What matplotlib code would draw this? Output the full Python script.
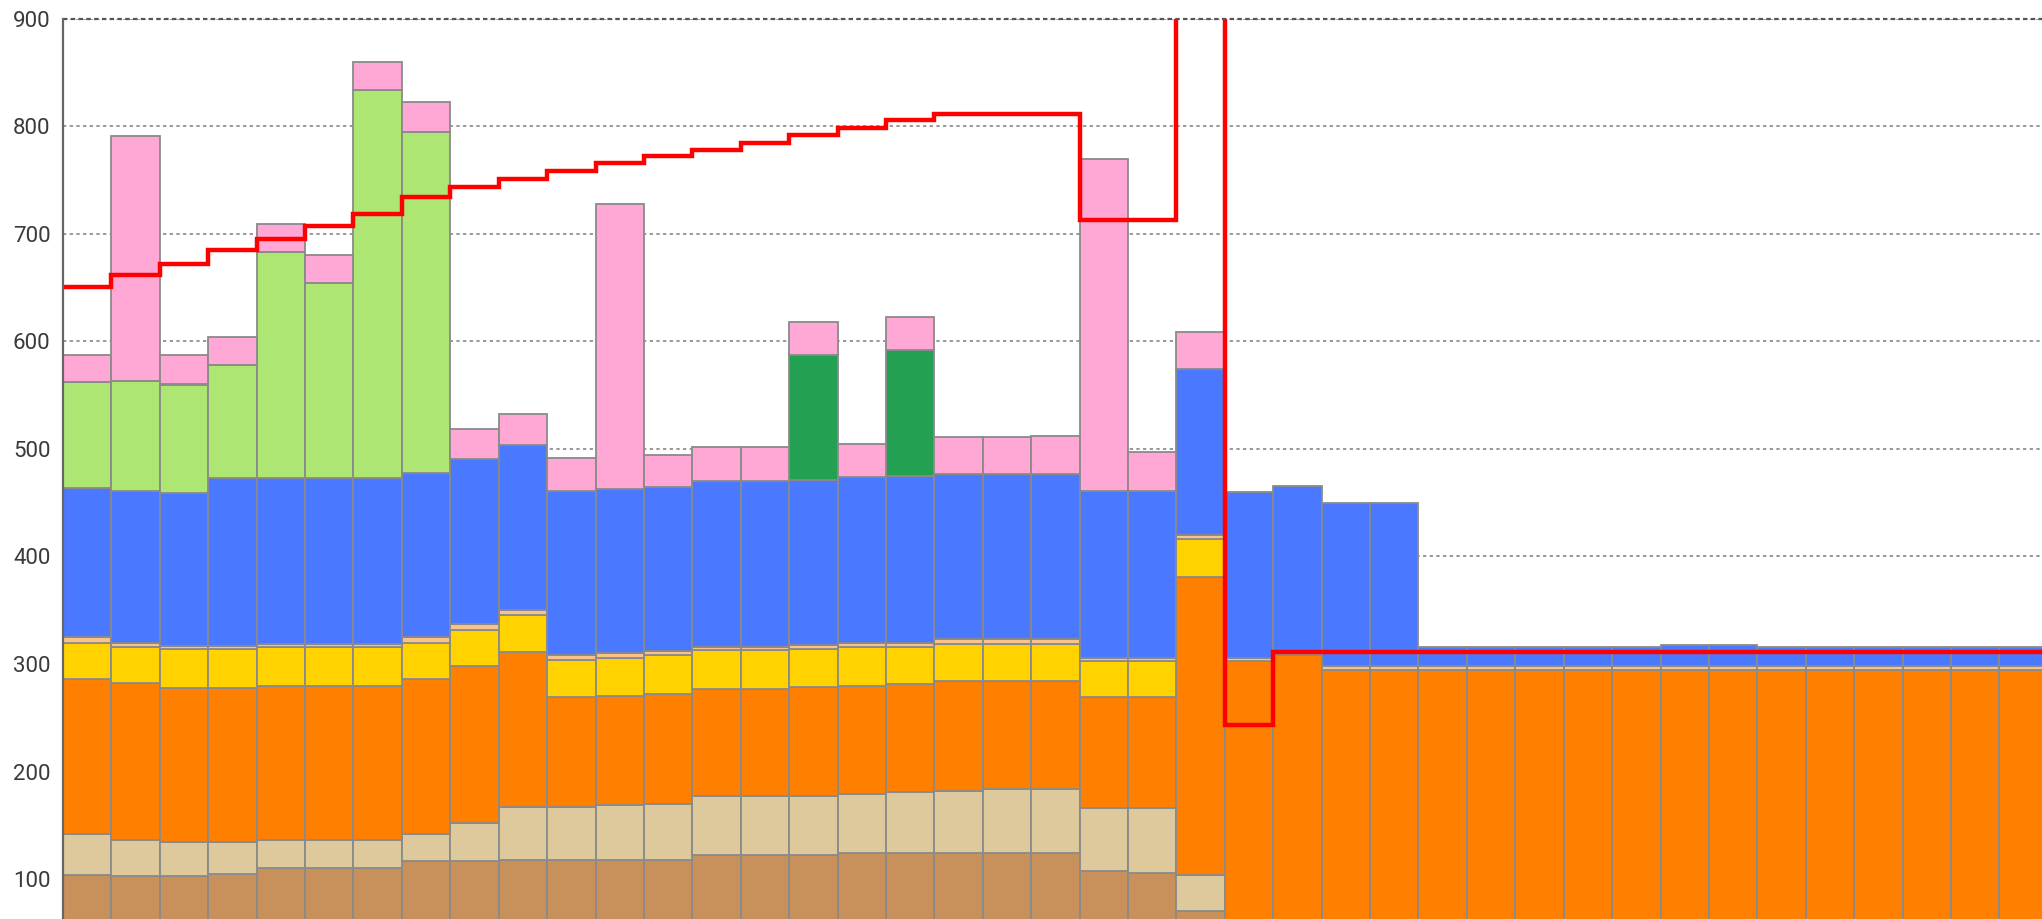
import numpy as np
import matplotlib
matplotlib.use('Agg')
import matplotlib.pyplot as plt

# stacked segment heights, one entry per bar (41 bars, last one cut by the frame)
brown = [104, 103, 103, 105, 110, 110, 110, 117, 117, 118, 118, 118, 118, 122, 122, 122, 124, 124, 124, 124, 124,
         107, 106, 70, 0, 0, 0, 0, 0, 0, 0, 0, 0, 0, 0, 0, 0, 0, 0, 0, 0]
tan = [38, 33, 31, 29, 26, 26, 26, 25, 35, 49, 49, 51, 52, 55, 55, 55, 55, 57, 58, 60, 60,
       59, 60, 34, 0, 0, 0, 0, 0, 0, 0, 0, 0, 0, 0, 0, 0, 0, 0, 0, 0]
orange = [144, 146, 144, 144, 144, 144, 144, 144, 146, 144, 102, 101, 102, 100, 100, 102, 101, 100, 102, 100, 100,
          103, 103, 277, 303, 308, 294, 294, 294, 294, 294, 294, 294, 294, 294, 294, 294, 294, 294, 294, 294]
yellow = [34, 34, 36, 36, 36, 36, 36, 34, 34, 35, 35, 36, 36, 36, 36, 35, 36, 35, 35, 35, 35,
          34, 34, 35, 0, 0, 0, 0, 0, 0, 0, 0, 0, 0, 0, 0, 0, 0, 0, 0, 0]
peach = [5, 4, 3, 3, 3, 3, 3, 5, 5, 4, 4, 4, 4, 3, 3, 4, 4, 4, 4, 4, 4,
         3, 3, 4, 3, 3, 4, 4, 4, 4, 4, 4, 4, 4, 4, 4, 4, 4, 4, 4, 4]
blue = [139, 141, 142, 156, 154, 154, 154, 153, 154, 154, 153, 153, 153, 154, 154, 153, 154, 155, 154, 154, 154,
        155, 155, 154, 154, 155, 152, 152, 18, 18, 18, 18, 18, 20, 20, 18, 18, 18, 18, 18, 18]
light_green = [98, 102, 101, 105, 210, 181, 361, 317, 0, 0, 0, 0, 0, 0, 0, 0, 0, 0, 0, 0, 0,
               0, 0, 0, 0, 0, 0, 0, 0, 0, 0, 0, 0, 0, 0, 0, 0, 0, 0, 0, 0]
dark_green = [0, 0, 0, 0, 0, 0, 0, 0, 0, 0, 0, 0, 0, 0, 0, 116, 0, 117, 0, 0, 0,
              0, 0, 0, 0, 0, 0, 0, 0, 0, 0, 0, 0, 0, 0, 0, 0, 0, 0, 0, 0]
pink = [25, 228, 27, 26, 26, 26, 26, 28, 28, 29, 31, 265, 29, 32, 32, 31, 31, 31, 34, 34, 35,
        309, 36, 35, 0, 0, 0, 0, 0, 0, 0, 0, 0, 0, 0, 0, 0, 0, 0, 0, 0]

# red step line, one level per bar (bar 23 runs off the top)
red_line = [651, 662, 672, 685, 695, 707, 719, 734, 744, 751, 759, 766, 773, 778, 785, 792, 799, 806, 812, 812, 812,
            713, 713, 1000, 243, 311, 311, 311, 311, 311, 311, 311, 311, 311, 311, 311, 311, 311, 311, 311, 311]

y_ticks = [100, 200, 300, 400, 500, 600, 700, 800, 900]

layers = [
    (brown, '#c8905a'),
    (tan, '#ddc99b'),
    (orange, '#ff8000'),
    (yellow, '#ffd200'),
    (peach, '#f8c28a'),
    (blue, '#4a78ff'),
    (light_green, '#aee673'),
    (dark_green, '#23a052'),
    (pink, '#ffa8d6'),
]

fig = plt.figure(figsize=(20.42, 9.19), dpi=100)
ax = fig.add_axes([63 / 2042, 0, 1 - 63 / 2042, 900 / 919])

x = np.arange(len(brown))
bottom = np.zeros(len(brown))
for values, color in layers:
    values = np.array(values, dtype=float)
    mask = values > 0
    ax.bar(x[mask], values[mask], bottom=bottom[mask], width=1.0, color=color,
           edgecolor='#8a8a8a', linewidth=1.3, zorder=2)
    bottom += values

edges = np.arange(len(red_line) + 1) - 0.5
ax.stairs(red_line, edges, baseline=None, color='#ff0000', linewidth=3.2, zorder=4)

ax.set_xlim(-0.5, -0.5 + 1979 / 48.41)
ax.set_ylim(900 - 900 / 1.075, 900)
ax.set_yticks(y_ticks)
ax.set_yticklabels([str(t) for t in y_ticks], fontfamily='Roboto', fontsize=16, color='#3a3a3a')
ax.set_xticks([])
ax.tick_params(axis='y', length=0, pad=9)

ax.yaxis.grid(True, color='#888888', linewidth=1.2, linestyle=(0, (2.0, 2.0)), zorder=0)
ax.set_axisbelow(True)
ax.axhline(900, color='#555555', linewidth=1.6, linestyle=(0, (2, 1.5)), clip_on=False, zorder=5)

for side in ['top', 'right', 'bottom']:
    ax.spines[side].set_visible(False)
ax.spines['left'].set_color('#666666')
ax.spines['left'].set_linewidth(1.6)
ax.spines['left'].set_zorder(6)

fig.savefig('out.png', dpi=100)
